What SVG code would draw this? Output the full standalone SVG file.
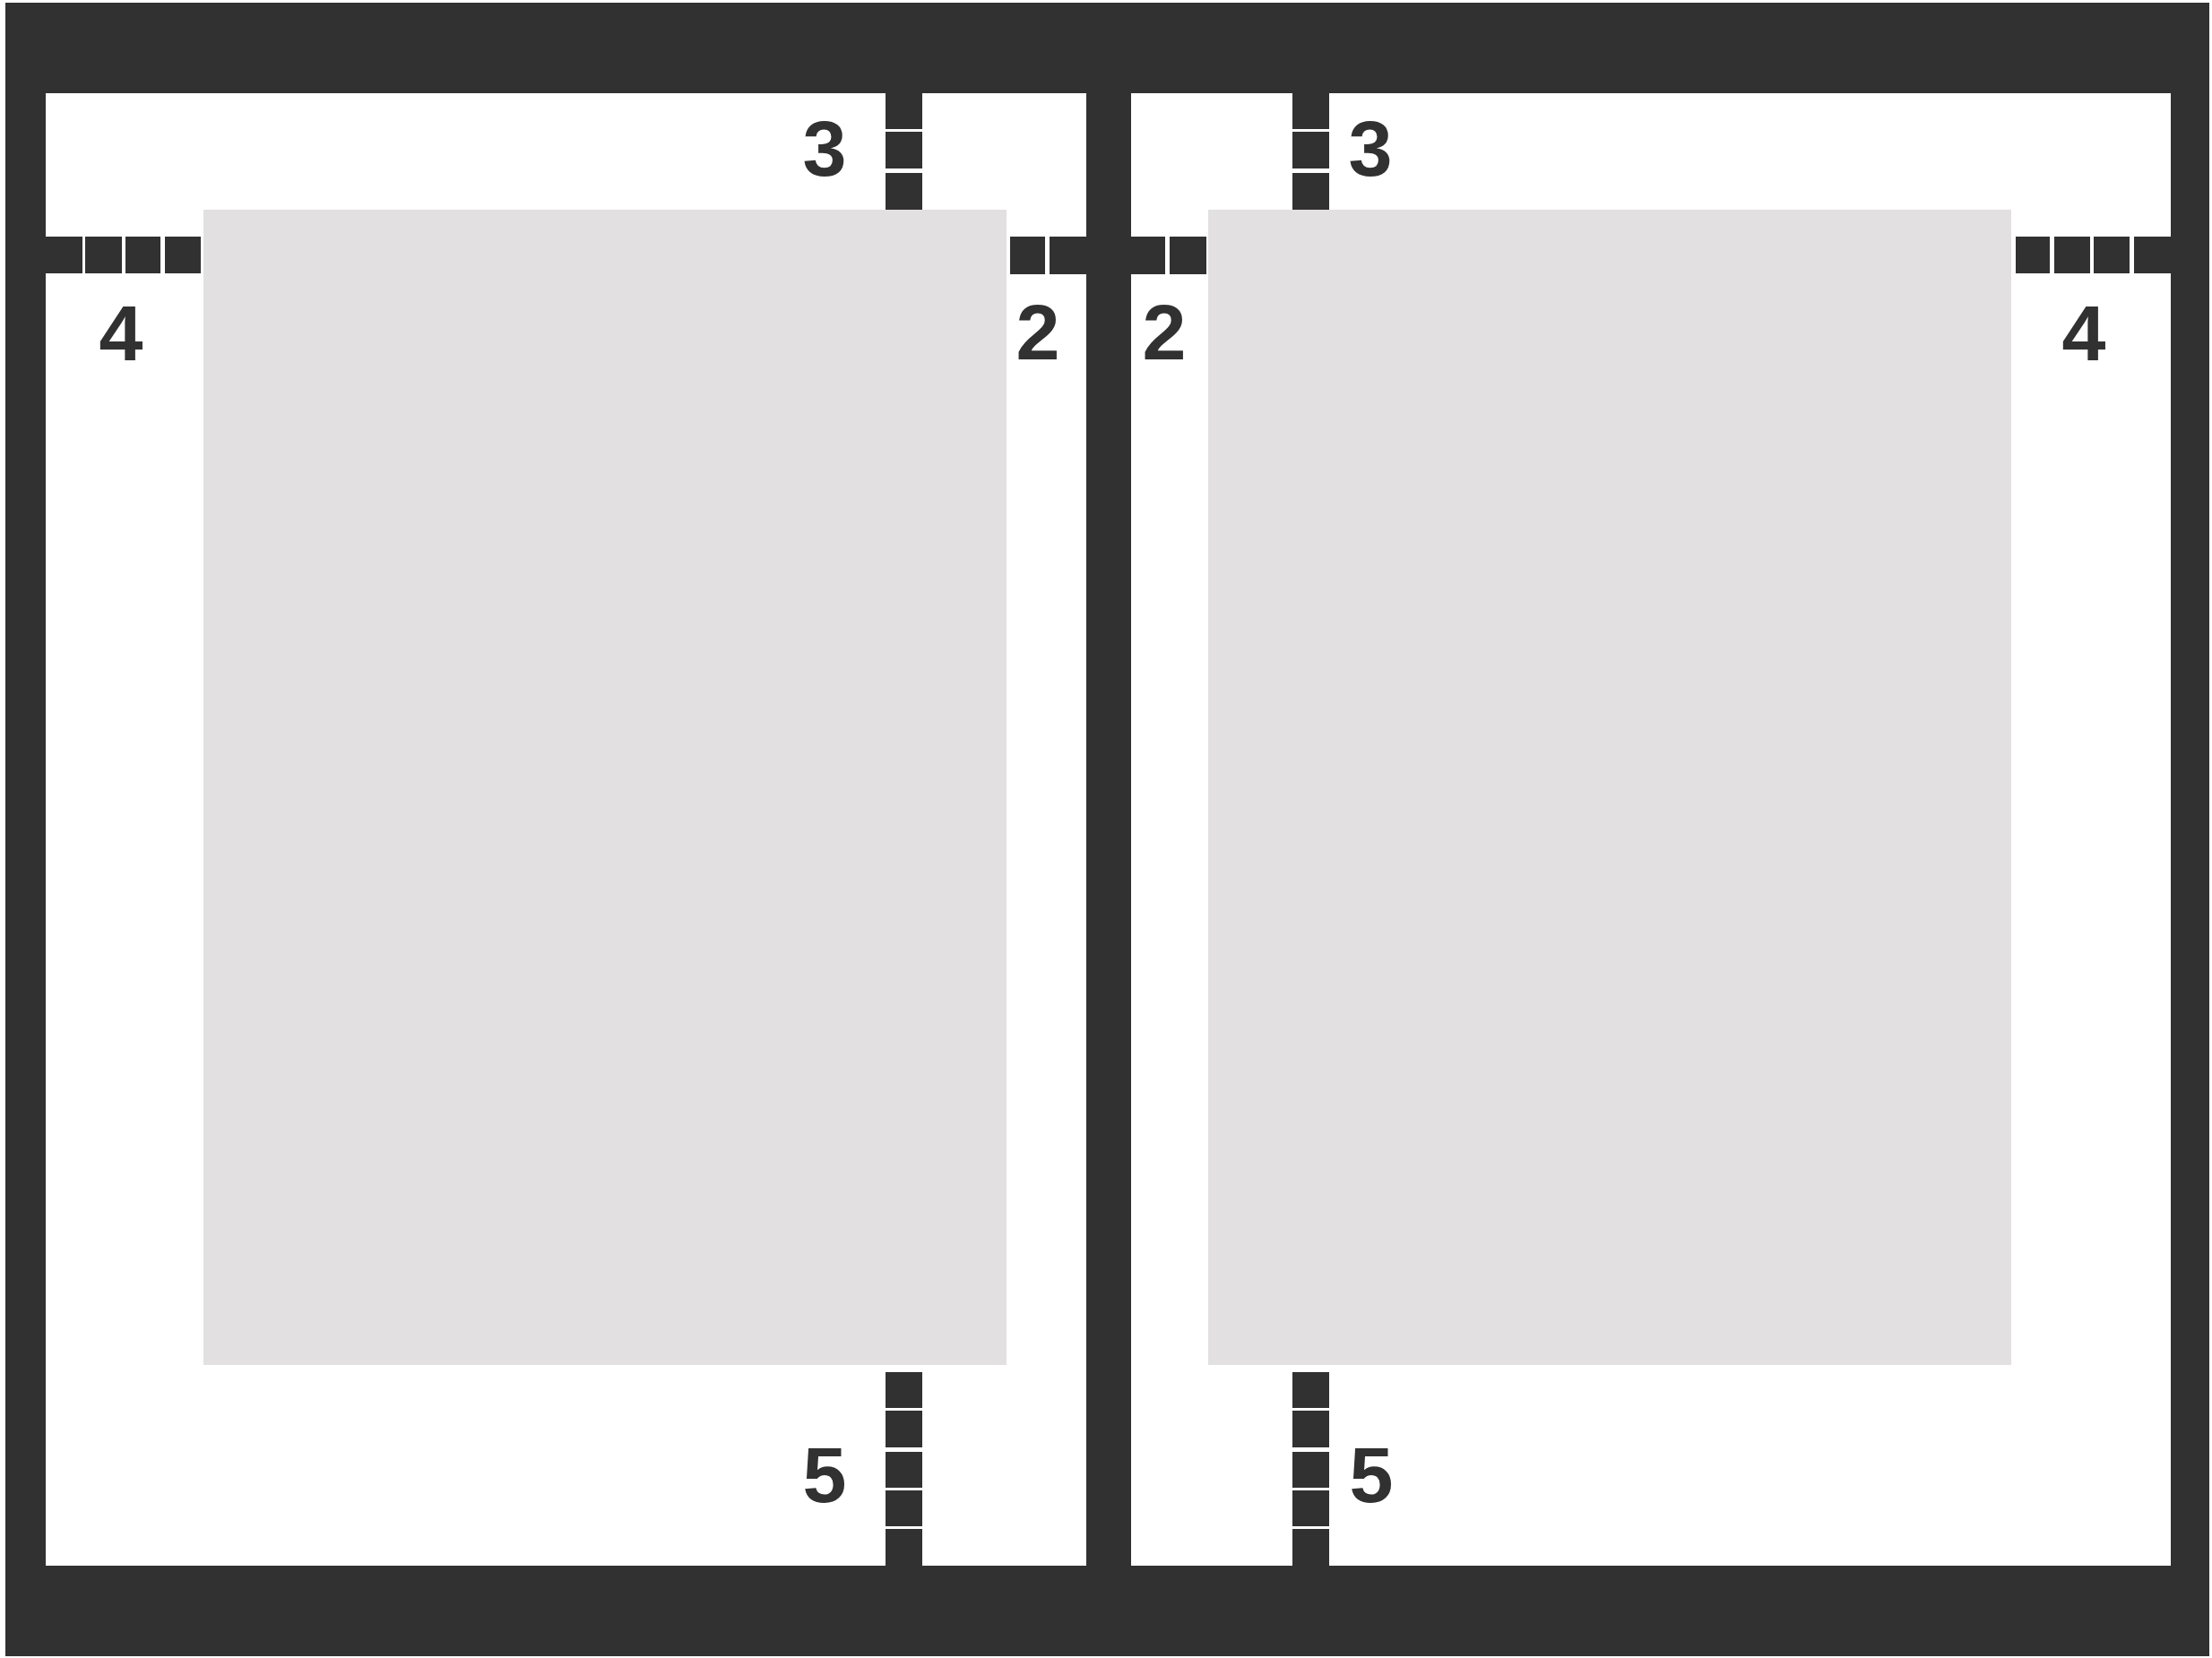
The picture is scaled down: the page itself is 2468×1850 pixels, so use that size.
<svg xmlns="http://www.w3.org/2000/svg" width="2468" height="1850" viewBox="0 0 2468 1850">
<style>
.dk{fill:#313131}
.pg{fill:#ffffff}
.gr{fill:#e2e0e1}
.lb{font-family:"Liberation Sans",Arial,sans-serif;font-weight:bold;font-size:88px;fill:#313131;text-anchor:middle}
</style>
<rect width="2468" height="1850" fill="#ffffff"/>
<g id="frame">
<rect class="dk" x="6" y="3" width="2459" height="1845"/>
<rect class="pg" x="51" y="104" width="1161" height="1643"/>
<rect class="pg" x="1262" y="104" width="1160" height="1643"/>
</g>
<g id="left-page">
<rect class="gr" x="227" y="234" width="896" height="1289"/>
<g id="left-bar-4">
<rect class="dk" x="51" y="264" width="41" height="41"/>
<rect class="dk" x="95" y="264" width="41" height="41"/>
<rect class="dk" x="140" y="264" width="39" height="41"/>
<rect class="dk" x="184" y="264" width="40" height="41"/>
</g>
<g id="left-bar-3">
<rect class="dk" x="988" y="104" width="41" height="40"/>
<rect class="dk" x="988" y="147" width="41" height="41"/>
<rect class="dk" x="988" y="193" width="41" height="41"/>
</g>
<g id="left-bar-2">
<rect class="dk" x="1127" y="264" width="39" height="42"/>
<rect class="dk" x="1171" y="264" width="41" height="42"/>
</g>
<g id="left-bar-5">
<rect class="dk" x="988" y="1531" width="41" height="40"/>
<rect class="dk" x="988" y="1574" width="41" height="41"/>
<rect class="dk" x="988" y="1620" width="41" height="40"/>
<rect class="dk" x="988" y="1663" width="41" height="40"/>
<rect class="dk" x="988" y="1706" width="41" height="41"/>
</g>
<text class="lb" x="135" y="402">4</text>
<text class="lb" x="920" y="196">3</text>
<text class="lb" x="1158" y="401">2</text>
<text class="lb" x="920" y="1676">5</text>
</g>
<g id="right-page">
<rect class="gr" x="1348" y="234" width="896" height="1289"/>
<g id="right-bar-2">
<rect class="dk" x="1262" y="264" width="38" height="42"/>
<rect class="dk" x="1305" y="264" width="41" height="42"/>
</g>
<g id="right-bar-3">
<rect class="dk" x="1442" y="104" width="41" height="40"/>
<rect class="dk" x="1442" y="147" width="41" height="41"/>
<rect class="dk" x="1442" y="193" width="41" height="41"/>
</g>
<g id="right-bar-4">
<rect class="dk" x="2249" y="264" width="38" height="41"/>
<rect class="dk" x="2292" y="264" width="40" height="41"/>
<rect class="dk" x="2336" y="264" width="40" height="41"/>
<rect class="dk" x="2381" y="264" width="41" height="41"/>
</g>
<g id="right-bar-5">
<rect class="dk" x="1442" y="1531" width="41" height="40"/>
<rect class="dk" x="1442" y="1574" width="41" height="41"/>
<rect class="dk" x="1442" y="1620" width="41" height="40"/>
<rect class="dk" x="1442" y="1663" width="41" height="40"/>
<rect class="dk" x="1442" y="1706" width="41" height="41"/>
</g>
<text class="lb" x="1299" y="401">2</text>
<text class="lb" x="1529" y="196">3</text>
<text class="lb" x="2325" y="402">4</text>
<text class="lb" x="1530" y="1676">5</text>
</g>
<g id="connectors"></g>
</svg>
